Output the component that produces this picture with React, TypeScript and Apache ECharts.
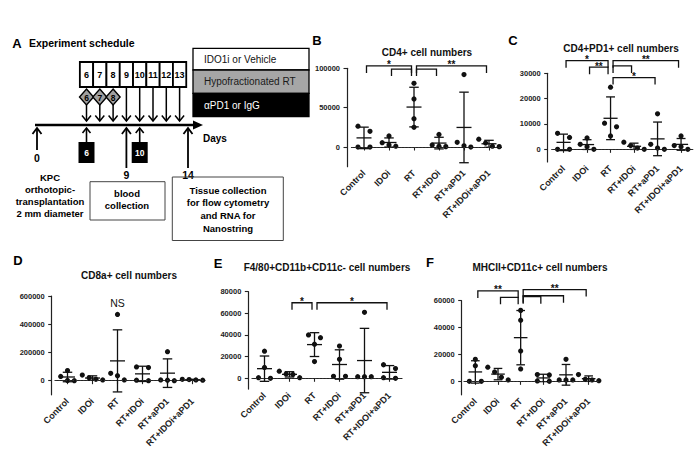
import React, { useEffect, useRef } from 'react';
import * as echarts from 'echarts';

const FONT = '"Liberation Sans", Arial, sans-serif';
const INK = '#111';

// ---------- shared categories ----------
const groups = ['Control', 'IDOi', 'RT', 'RT+IDOi', 'RT+aPD1', 'RT+IDOi+aPD1'];

// ---------- Panel B ----------
const cd4Title = 'CD4+ cell numbers';
const cd4Values = [
  [26400, 20000, 0, 0],
  [14000, 5500, 2500, 1000],
  [81000, 61000, 36000, 25000],
  [16000, 2500, 1000, 500],
  [92000, 6000, 1500, 0],
  [10000, 5000, 1000, 500],
];
const cd4Ticks = [0, 50000, 100000];
const cd4Brackets: [number, number, number, string][] = [
  [0, 2, 103000, '*'],
  [1, 2, 99000, ''],
  [2, 5, 103000, '**'],
  [2, 3, 99000, ''],
];

// ---------- Panel C ----------
const pd1Title = 'CD4+PD1+ cell numbers';
const pd1Values = [
  [6300, 4700, 0, 0],
  [4500, 2000, 1000, 0],
  [24500, 8900, 10300, 5300],
  [2800, 1500, 500, 0],
  [14000, 2000, 500, 0],
  [5300, 1500, 1000, 0],
];
const pd1Ticks = [0, 10000, 20000, 30000];
const pd1Brackets: [number, number, number, string][] = [
  [0, 2, 35000, '*'],
  [1, 2, 32400, '**'],
  [2, 5, 35000, '**'],
  [2, 3, 32900, ''],
  [2, 4, 28300, '*'],
];

// ---------- Panel D ----------
const cd8Title = 'CD8a+ cell numbers';
const cd8Values = [
  [72000, 30000, 2000, 0],
  [40000, 20000, 10000, 5000],
  [469000, 52000, 35000, 5000],
  [97000, 93000, 3000, 0],
  [205000, 5000, 3000, 0],
  [10000, 8000, 5000, 3000],
];
const cd8Ticks = [0, 200000, 400000, 600000];
const cd8Brackets: [number, number, number, string][] = [];
const cd8Notes: [number, number, string][] = [[2, 548000, 'NS']];

// ---------- Panel E ----------
const macTitle = 'F4/80+CD11b+CD11c- cell numbers';
const macValues = [
  [25000, 10000, 500, 0],
  [6500, 4000, 3500, 500],
  [37500, 40000, 31500, 15500],
  [29800, 17500, 1800, 1800],
  [61000, 1500, 1500, 1500],
  [9000, 12500, 500, 0],
];
const macTicks = [0, 20000, 40000, 60000, 80000];
const macBrackets: [number, number, number, string][] = [
  [1, 2, 69800, '*'],
  [2, 5, 69800, '*'],
];

// ---------- Panel F ----------
const dcTitle = 'MHCII+CD11c+ cell numbers';
const dcValues = [
  [16400, 11600, 0, 0],
  [10500, 7000, 3000, 1000],
  [52800, 45500, 22500, 9200],
  [5000, 4800, 300, 0],
  [16400, 1000, 1000, 1000],
  [5000, 1500, 1000, 500],
];
const dcTicks = [0, 20000, 40000, 60000];
const dcBrackets: [number, number, number, string][] = [
  [0, 2, 67300, '**'],
  [1, 2, 62500, ''],
  [2, 5, 68300, '**'],
  [2, 3, 63000, ''],
  [2, 4, 63700, ''],
];

// ---------- Panel A (schedule) ----------
const scheduleDays = [6, 7, 8, 9, 10, 11, 12, 13];
const rtDays = [6, 7, 8];
const antibodyDays = [6, 10];
const keyDays = [0, 9, 14];
const legendLabels = ['IDO1i or Vehicle', 'Hypofractionated RT', '\u03b1PD1 or IgG'];
const implantNote = ['KPC', 'orthotopic-', 'transplantation', '2 mm diameter'];
const bloodNote = ['blood', 'collection'];
const tissueNote = ['Tissue collection', 'for flow cytometry', 'and RNA for', 'Nanostring'];

// ---------- layout ----------
const PANELS = [
  { letter: 'B', lx: 317, ly: 40, title: cd4Title, tx: 427, ty: 52, values: cd4Values, ticks: cd4Ticks, brackets: cd4Brackets, notes: [] as [number, number, string][], left: 351.5, width: 150, top: 68.3, height: 98.4, min: -25000, max: 100000, offset: 4.5 },
  { letter: 'C', lx: 513, ly: 40, title: pd1Title, tx: 621, ty: 48, values: pd1Values, ticks: pd1Ticks, brackets: pd1Brackets, notes: [] as [number, number, string][], left: 551.8, width: 141, top: 73.3, height: 88.7, min: -5000, max: 30000, offset: 4.1 },
  { letter: 'D', lx: 18, ly: 260, title: cd8Title, tx: 129, ty: 275, values: cd8Values, ticks: cd8Ticks, brackets: cd8Brackets, notes: cd8Notes, left: 55, width: 150, top: 296, height: 99, min: -100000, max: 600000, offset: 3.3 },
  { letter: 'E', lx: 218, ly: 263, title: macTitle, tx: 327, ty: 267, values: macValues, ticks: macTicks, brackets: macBrackets, notes: [] as [number, number, string][], left: 252, width: 150, top: 291.7, height: 97.4, min: -10000, max: 80000, offset: 3.7 },
  { letter: 'F', lx: 430, ly: 262, title: dcTitle, tx: 540, ty: 267, values: dcValues, ticks: dcTicks, brackets: dcBrackets, notes: [] as [number, number, string][], left: 464, width: 136, top: 300.7, height: 96.3, min: -10000, max: 60000, offset: 2.3 },
];

function stats(v: number[]) {
  const n = v.length;
  const mean = v.reduce((a, b) => a + b, 0) / n;
  const sd = Math.sqrt(v.reduce((a, b) => a + (b - mean) * (b - mean), 0) / (n - 1));
  return { mean, sd };
}

function txt(x: number, y: number, text: string, font: string, fill = INK, align = 'center') {
  return {
    type: 'text', x, y, silent: true,
    style: { text, font, fill, align, verticalAlign: 'middle', textAlign: align, textVerticalAlign: 'middle' },
  };
}
function ln(x1: number, y1: number, x2: number, y2: number, w = 1.5) {
  return { type: 'line', silent: true, shape: { x1, y1, x2, y2 }, style: { stroke: '#000', lineWidth: w } };
}
function dayX(d: number) {
  if (d === 0) return 37;
  if (d === 14) return 188;
  return 86.5 + (d - 6) * 13.3;
}

function buildSchedule() {
  const els: any[] = [];
  const bold = (s: number) => `bold ${s}px ${FONT}`;
  els.push(txt(17, 43, 'A', bold(13), '#000'));
  els.push(txt(29, 43, 'Experiment schedule', bold(10.5), '#000', 'left'));
  scheduleDays.forEach((d) => {
    const x = dayX(d);
    els.push({ type: 'rect', silent: true, shape: { x: x - 6.65, y: 62, width: 13.3, height: 25 }, style: { fill: '#fff', stroke: '#000', lineWidth: 1.8 } });
    els.push(txt(x, 75, String(d), bold(9), '#000'));
  });
  rtDays.forEach((d) => {
    const x = dayX(d);
    els.push({ type: 'polygon', silent: true, shape: { points: [[x, 89], [x + 7, 97], [x, 105], [x - 7, 97]] }, style: { fill: '#a0a0a0', stroke: '#000', lineWidth: 1.4 } });
    els.push(txt(x, 97.5, String(d), bold(8.5), '#000'));
  });
  scheduleDays.forEach((d) => {
    const x = dayX(d);
    const y0 = rtDays.includes(d) ? 105 : 87;
    els.push(ln(x, y0, x, 121, 1.5));
    els.push({ type: 'polyline', silent: true, shape: { points: [[x - 4.5, 115.5], [x, 121], [x + 4.5, 115.5]] }, style: { stroke: '#000', lineWidth: 1.5, fill: 'none' } });
  });
  els.push(ln(35, 125, 195, 125, 2.6));
  els.push({ type: 'polygon', silent: true, shape: { points: [[203, 125], [193, 120.5], [193, 129.5]] }, style: { fill: '#000' } });
  els.push(txt(203, 138, 'Days', bold(10), '#000', 'left'));
  keyDays.forEach((d) => {
    const x = dayX(d);
    const y1 = d === 0 ? 150 : 168;
    els.push(ln(x, 128, x, y1, 1.8));
    els.push({ type: 'polyline', silent: true, shape: { points: [[x - 4.5, 134], [x, 128], [x + 4.5, 134]] }, style: { stroke: '#000', lineWidth: 1.8, fill: 'none' } });
    els.push(txt(x, d === 0 ? 158 : 175, String(d), bold(10.5), '#000'));
  });
  antibodyDays.forEach((d) => {
    const x = dayX(d);
    els.push(ln(x, 128, x, 142, 1.6));
    els.push({ type: 'polyline', silent: true, shape: { points: [[x - 4, 133], [x, 128], [x + 4, 133]] }, style: { stroke: '#000', lineWidth: 1.6, fill: 'none' } });
    els.push({ type: 'rect', silent: true, shape: { x: x - 8, y: 142, width: 16, height: 21 }, style: { fill: '#000' } });
    els.push(txt(x, 152.5, String(d), bold(8.5), '#fff'));
  });
  const lg = [
    { y: 48.3, h: 21.7, fill: '#fff', tc: '#111' },
    { y: 70, h: 23.3, fill: '#a6a6a6', tc: '#1a1a1a' },
    { y: 93.3, h: 23.4, fill: '#000', tc: '#fff' },
  ];
  legendLabels.forEach((t, i) => {
    const s = lg[i];
    els.push({ type: 'rect', silent: true, shape: { x: 193, y: s.y, width: 116, height: s.h }, style: { fill: s.fill, stroke: '#000', lineWidth: 1.3 } });
    els.push(txt(204, s.y + s.h / 2, t, `10px ${FONT}`, s.tc, 'left'));
  });
  implantNote.forEach((t, i) => els.push(txt(50, 177 + i * 12, t, bold(9.5), '#000')));
  els.push({ type: 'rect', silent: true, shape: { x: 90, y: 181.7, width: 75, height: 38.3 }, style: { fill: 'none', stroke: '#444', lineWidth: 1 } });
  bloodNote.forEach((t, i) => els.push(txt(127, 193.5 + i * 12, t, bold(9.5), '#000')));
  els.push({ type: 'rect', silent: true, shape: { x: 172.3, y: 177, width: 111, height: 63.5 }, style: { fill: 'none', stroke: '#444', lineWidth: 1 } });
  tissueNote.forEach((t, i) => els.push(txt(228, 190 + i * 12.7, t, bold(9.5), '#000')));
  return els;
}

function buildOption() {
  const grid: any[] = [];
  const xAxis: any[] = [];
  const yAxis: any[] = [];
  const series: any[] = [];
  const graphic: any[] = buildSchedule();
  const axisText = { fontSize: 7.5, fontWeight: 'bold', color: '#222', fontFamily: FONT };
  const axisLine = { show: true, lineStyle: { color: '#222', width: 1.2 } };

  PANELS.forEach((p, gi) => {
    graphic.push(txt(p.lx, p.ly, p.letter, `bold 13px ${FONT}`, '#000'));
    graphic.push(txt(p.tx, p.ty, p.title, `bold 10px ${FONT}`, '#111'));
    grid.push({ left: p.left, top: p.top, width: p.width, height: p.height, containLabel: false });
    xAxis.push({
      type: 'category', gridIndex: gi, data: groups, boundaryGap: true,
      axisLine, axisTick: { show: true, alignWithLabel: true, length: 3.5, lineStyle: { color: '#222', width: 1.1 } },
      axisLabel: { ...axisText, fontSize: 9, rotate: 45, interval: 0, margin: 5 },
      splitLine: { show: false },
    });
    yAxis.push({
      type: 'value', gridIndex: gi, min: p.min, max: p.max, offset: p.offset,
      axisLine, splitLine: { show: false },
      axisTick: { show: true, length: 3.5, customValues: p.ticks, lineStyle: { color: '#222', width: 1.1 } },
      axisLabel: { ...axisText, margin: 7, customValues: p.ticks, formatter: (v: number) => String(v) },
    });
    series.push({
      type: 'scatter', xAxisIndex: gi, yAxisIndex: gi, data: [[0, 0]], symbolSize: 0, silent: true,
      markLine: {
        silent: true, symbol: 'none', label: { show: false },
        lineStyle: { type: [1.5, 2], color: '#333', width: 1.2 },
        data: [{ yAxis: 0 }],
      },
    });
    const values = p.values;
    series.push({
      type: 'custom', xAxisIndex: gi, yAxisIndex: gi, clip: false, silent: true, z: 3,
      data: values.map((_, i) => [i, 0]),
      renderItem: (_params: any, api: any) => {
        const idx = api.value(0);
        const vals = values[idx];
        const r = 2.6;
        const pts = vals.map((v) => api.coord([idx, v]));
        const order = pts.map((_: any, i: number) => i).sort((a: number, b: number) => pts[a][1] - pts[b][1]);
        const rows: number[][] = [];
        for (const i of order) {
          const row = rows[rows.length - 1];
          if (row && pts[i][1] - pts[row[row.length - 1]][1] < 2 * r + 0.4) row.push(i);
          else rows.push([i]);
        }
        const children: any[] = [];
        for (const row of rows) {
          const n = row.length;
          const step = n === 2 ? 12 : 6.8;
          row.forEach((i, k) => {
            children.push({ type: 'circle', shape: { cx: pts[i][0] + (k - (n - 1) / 2) * step, cy: pts[i][1], r }, style: { fill: INK } });
          });
        }
        return { type: 'group', children };
      },
    });
    series.push({
      type: 'custom', xAxisIndex: gi, yAxisIndex: gi, clip: false, silent: true, z: 4,
      data: values.map((v, i) => { const s = stats(v); return [i, s.mean, s.sd]; }),
      renderItem: (_params: any, api: any) => {
        const i = api.value(0), m = api.value(1), s = api.value(2);
        const bw = api.size([1, 0])[0];
        const [x, ym] = api.coord([i, m]);
        const yt = api.coord([i, m + s])[1];
        const yb = api.coord([i, m - s])[1];
        const mh = bw * 0.3, ch = bw * 0.19;
        const ls = { stroke: INK, lineWidth: 1.3 };
        return {
          type: 'group', children: [
            { type: 'line', shape: { x1: x, y1: yt, x2: x, y2: yb }, style: ls },
            { type: 'line', shape: { x1: x - ch, y1: yt, x2: x + ch, y2: yt }, style: ls },
            { type: 'line', shape: { x1: x - ch, y1: yb, x2: x + ch, y2: yb }, style: ls },
            { type: 'line', shape: { x1: x - mh, y1: ym, x2: x + mh, y2: ym }, style: ls },
          ],
        };
      },
    });
    const br = p.brackets;
    if (br.length) {
      series.push({
        type: 'custom', xAxisIndex: gi, yAxisIndex: gi, clip: false, silent: true, z: 5,
        data: br.map((b, i) => [b[0], b[2], i]),
        renderItem: (_params: any, api: any) => {
          const b = br[api.value(2)];
          const x1 = api.coord([b[0], 0])[0] + 2.5;
          const x2 = api.coord([b[1], 0])[0] - 2.5;
          const y = api.coord([0, b[2]])[1];
          const children: any[] = [
            { type: 'polyline', shape: { points: [[x1, y + 7], [x1, y], [x2, y], [x2, y + 7]] }, style: { stroke: INK, lineWidth: 1.3, fill: 'none' } },
          ];
          if (b[3]) {
            children.push({ type: 'text', x: (x1 + x2) / 2, y: y - 1, style: { text: b[3], font: `bold 10px ${FONT}`, fill: INK, align: 'center', verticalAlign: 'middle', textAlign: 'center', textVerticalAlign: 'middle' } });
          }
          return { type: 'group', children };
        },
      });
    }
    const notes = p.notes;
    if (notes.length) {
      series.push({
        type: 'custom', xAxisIndex: gi, yAxisIndex: gi, clip: false, silent: true, z: 5,
        data: notes.map((n, i) => [n[0], n[1], i]),
        renderItem: (_params: any, api: any) => {
          const n = notes[api.value(2)];
          const [x, y] = api.coord([n[0], n[1]]);
          return { type: 'text', x, y, style: { text: n[2], font: `10.5px ${FONT}`, fill: INK, align: 'center', verticalAlign: 'middle', textAlign: 'center', textVerticalAlign: 'middle' } };
        },
      });
    }
  });

  return {
    animation: false,
    backgroundColor: '#fff',
    textStyle: { fontFamily: FONT },
    grid, xAxis, yAxis, series, graphic,
  };
}

export default function App() {
  const ref = useRef<HTMLDivElement>(null);
  useEffect(() => {
    if (!ref.current) return;
    const chart = echarts.init(ref.current, undefined, { renderer: 'svg' });
    chart.setOption(buildOption() as any);
    return () => chart.dispose();
  }, []);
  return <div ref={ref} style={{ position: 'absolute', left: 0, top: 0, width: 698, height: 450 }} />;
}
